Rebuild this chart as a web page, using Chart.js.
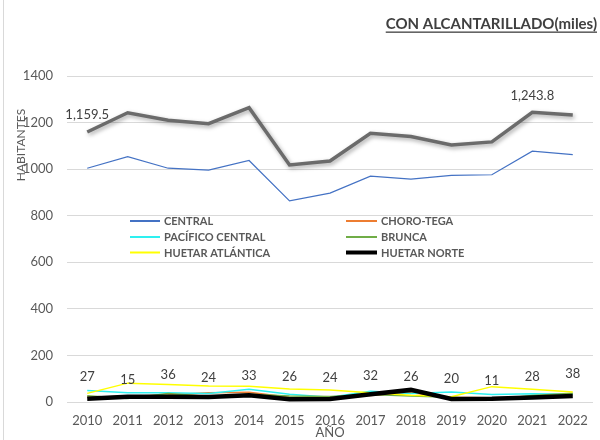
<!DOCTYPE html>
<html>
<head>
<meta charset="utf-8">
<script src="https://cdn.jsdelivr.net/npm/chart.js@4.4.0/dist/chart.umd.min.js"></script>
<style>
  html, body { margin: 0; padding: 0; background: #fff; }
  #wrap { width: 600px; height: 440px; }
</style>
</head>
<body>
<div id="wrap"><canvas id="chart" width="600" height="440"></canvas></div>
<script>
// datos (miles de habitantes)
const years = ['2010', '2011', '2012', '2013', '2014', '2015', '2016', '2017', '2018', '2019', '2020', '2021', '2022'];
const central = [1004, 1054, 1004, 996, 1037, 864, 897, 970, 957, 973, 976, 1077, 1062];
const chorotega = [20, 25, 30, 40, 42, 20, 18, 28, 40, 20, 18, 22, 30];
const pacificoCentral = [49, 40, 40, 37, 55, 33, 20, 46, 37, 43, 32, 35, 33];
const brunca = [27, 15, 36, 24, 33, 26, 24, 32, 26, 20, 11, 28, 38];
const huetarAtlantica = [37, 81, 75, 69, 68, 56, 52, 40, 29, 23, 66, 55, 43];
const huetarNorte = [14, 23, 23, 22, 29, 12, 13, 33, 52, 13, 14, 19, 26];
const total = [1159.5, 1242, 1210, 1195, 1264, 1018, 1035, 1154, 1140, 1104, 1117, 1243.8, 1232];
const totalLabelIdx = [0, 11];
const yTicks = [0, 200, 400, 600, 800, 1000, 1200, 1400];

const FONT = 'Lato, "Open Sans", sans-serif';
const GRAY_TXT = '#595959';

const datasets = [
  { label: 'CENTRAL', data: central, borderColor: '#4472C4', borderWidth: 1.2 },
  { label: 'CHORO-TEGA', data: chorotega, borderColor: '#ED7D31', borderWidth: 1.5 },
  { label: 'PACÍFICO CENTRAL', data: pacificoCentral, borderColor: '#2EF0F0', borderWidth: 1.5 },
  { label: 'BRUNCA', data: brunca, borderColor: '#70AD47', borderWidth: 1.5 },
  { label: 'HUETAR ATLÁNTICA', data: huetarAtlantica, borderColor: '#FFFF00', borderWidth: 1.5 },
  { label: 'HUETAR NORTE', data: huetarNorte, borderColor: '#000000', borderWidth: 4.5 },
  { label: 'TOTAL', data: total, borderColor: '#6B6B6B', borderWidth: 3.5 }
].map((d, i) => Object.assign(d, {
  pointRadius: 0,
  tension: 0,
  fill: false,
  order: 7 - i
}));

// titulo subrayado, titulo eje Y, eje X, borde
const decor = {
  id: 'decor',
  beforeDraw(chart) {
    const ctx = chart.ctx;
    ctx.save();
    ctx.strokeStyle = '#d9d9d9';
    ctx.lineWidth = 1;
    ctx.beginPath();
    ctx.moveTo(3.5, 0);
    ctx.lineTo(3.5, 440);
    ctx.stroke();
    ctx.restore();
  },
  afterDraw(chart) {
    const ctx = chart.ctx;
    const area = chart.chartArea;
    ctx.save();
    // titulo
    ctx.font = 'bold 15px ' + FONT;
    ctx.fillStyle = '#404040';
    ctx.textAlign = 'right';
    ctx.textBaseline = 'alphabetic';
    const t = 'CON ALCANTARILLADO(miles)';
    ctx.fillText(t, 597, 29);
    const w = ctx.measureText(t).width;
    ctx.fillRect(597 - w, 31.5, w, 1.3);
    // eje Y
    ctx.font = '12px ' + FONT;
    ctx.fillStyle = GRAY_TXT;
    ctx.translate(21, 145);
    ctx.rotate(-Math.PI / 2);
    ctx.textAlign = 'center';
    ctx.textBaseline = 'middle';
    ctx.fillText('HABITANTES', 0, 0);
    ctx.restore();
    ctx.save();
    ctx.font = '13px ' + FONT;
    ctx.fillStyle = GRAY_TXT;
    ctx.textAlign = 'center';
    ctx.textBaseline = 'middle';
    ctx.fillText('AÑO', (area.left + area.right) / 2, 433);
    ctx.restore();
  }
};

// sombra para la linea gris
const shadow = {
  id: 'shadow',
  beforeDatasetDraw(chart, args) {
    if (chart.data.datasets[args.index].label !== 'TOTAL') return;
    const ctx = chart.ctx;
    ctx.save();
    ctx.shadowColor = 'rgba(0,0,0,0.35)';
    ctx.shadowBlur = 4;
    ctx.shadowOffsetX = 1.5;
    ctx.shadowOffsetY = 2;
  },
  afterDatasetDraw(chart, args) {
    if (chart.data.datasets[args.index].label !== 'TOTAL') return;
    chart.ctx.restore();
  }
};

// etiquetas de datos
const dataLabels = {
  id: 'dataLabels',
  afterDatasetsDraw(chart) {
    const ctx = chart.ctx;
    ctx.save();
    ctx.font = '13px ' + FONT;
    ctx.fillStyle = '#404040';
    ctx.textAlign = 'center';
    ctx.textBaseline = 'middle';
    chart.data.datasets.forEach((ds, i) => {
      const meta = chart.getDatasetMeta(i);
      if (ds.label === 'BRUNCA') {
        meta.data.forEach((pt, j) => {
          ctx.fillText(String(ds.data[j]), pt.x, pt.y - 19);
        });
      }
      if (ds.label === 'TOTAL') {
        totalLabelIdx.forEach(j => {
          const pt = meta.data[j];
          const txt = ds.data[j].toLocaleString('en-US', { minimumFractionDigits: 1, maximumFractionDigits: 1 });
          ctx.fillText(txt, pt.x, pt.y - 17);
        });
      }
    });
    ctx.restore();
  }
};

// leyenda en dos columnas dentro del area
const legend2 = {
  id: 'legend2',
  afterDatasetsDraw(chart) {
    const ctx = chart.ctx;
    const cols = [{ x0: 130, x1: 160, tx: 164 }, { x0: 346, x1: 377, tx: 381 }];
    const rows = [221, 237, 252.5];
    ctx.save();
    ctx.font = 'bold 11px ' + FONT;
    ctx.textBaseline = 'middle';
    ctx.textAlign = 'left';
    chart.data.datasets.forEach((ds, i) => {
      if (ds.label === 'TOTAL') return;
      const c = cols[i % 2];
      const y = rows[Math.floor(i / 2)];
      ctx.strokeStyle = ds.borderColor;
      ctx.lineWidth = ds.borderWidth > 3 ? 4 : 2;
      ctx.beginPath();
      ctx.moveTo(c.x0, y);
      ctx.lineTo(c.x1, y);
      ctx.stroke();
      ctx.fillStyle = GRAY_TXT;
      ctx.fillText(ds.label, c.tx, y + 0.5);
    });
    ctx.restore();
  }
};

new Chart(document.getElementById('chart'), {
  type: 'line',
  data: { labels: years, datasets: datasets },
  options: {
    responsive: false,
    animation: false,
    layout: { padding: { top: 76, right: 7, left: 0, bottom: 0 } },
    plugins: {
      legend: { display: false },
      title: { display: false },
      tooltip: { enabled: false }
    },
    scales: {
      x: {
        offset: true,
        grid: { display: false, drawTicks: false },
        border: { display: false },
        ticks: { color: GRAY_TXT, font: { family: FONT, size: 13 }, padding: 11, maxRotation: 0 },
        afterFit(scale) { scale.height = 38; }
      },
      y: {
        min: 0,
        max: 1400,
        afterBuildTicks(scale) { scale.ticks = yTicks.map(v => ({ value: v })); },
        grid: { color: '#d9d9d9', drawTicks: false },
        border: { display: false },
        ticks: {
          color: GRAY_TXT,
          font: { family: FONT, size: 13 },
          padding: 14,
          callback: v => String(v)
        },
        afterFit(scale) { scale.width = 67; }
      }
    }
  },
  plugins: [decor, shadow, dataLabels, legend2]
});
</script>
</body>
</html>
